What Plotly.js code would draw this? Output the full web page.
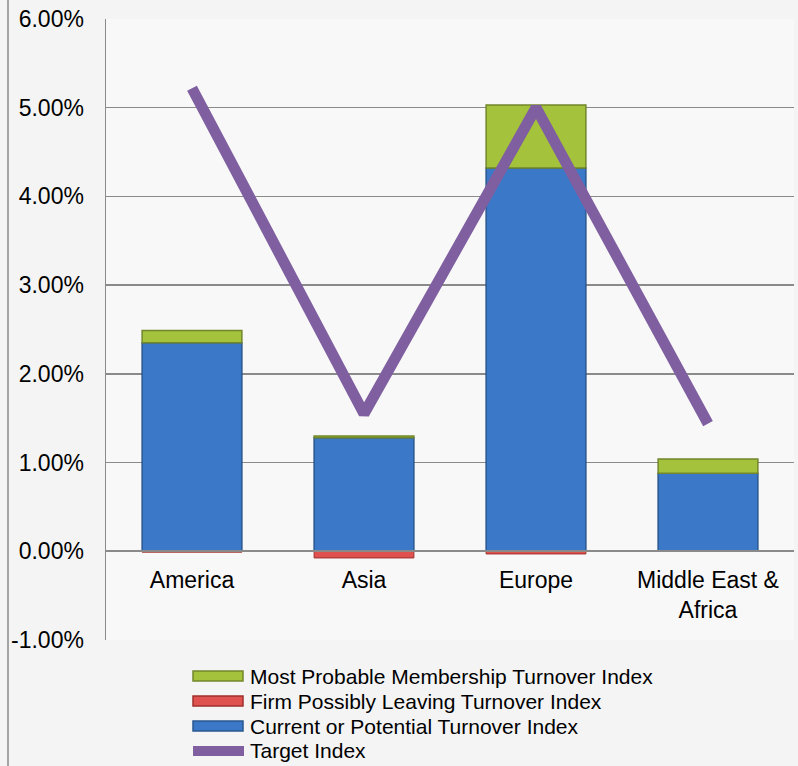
<!DOCTYPE html>
<html>
<head>
<meta charset="utf-8">
<script src="https://cdn.plot.ly/plotly-3.0.1.min.js"></script>
<style>html,body{margin:0;padding:0;background:#f4f4f4;}#chart{width:798px;height:766px;}</style>
</head>
<body>
<div id="chart"></div>
<script>
const categories = ["America", "Asia", "Europe", "Middle East &<br>Africa"];
const currentIdx = [0.0235, 0.0128, 0.0432, 0.0088];
const firmLeaving = [-0.0001, -0.00075, -0.0003, 0];
const mostProbable = [0.0014, 0.0002, 0.0071, 0.0016];
const targetIdx = [0.0522, 0.0155, 0.0500, 0.0144];
const yTicks = [-0.01, 0, 0.01, 0.02, 0.03, 0.04, 0.05, 0.06];
const yTickText = ["-1.00%", "0.00%", "1.00%", "2.00%", "3.00%", "4.00%", "5.00%", "6.00%"];
const seriesNames = ["Most Probable Membership Turnover Index", "Firm Possibly Leaving Turnover Index",
                     "Current or Potential Turnover Index", "Target Index"];
const seriesColors = ["#a5c23c", "#e0524f", "#3b78c8", "#7f5fa0"];
const seriesEdges = ["#72872a", "#9e2f2c", "#2a578f", "#7f5fa0"];

const traces = [
  {type: 'bar', name: seriesNames[2], x: categories, y: currentIdx,
   marker: {color: seriesColors[2], line: {color: seriesEdges[2], width: 1.5}}},
  {type: 'bar', name: seriesNames[1], x: categories, y: firmLeaving,
   marker: {color: seriesColors[1], line: {color: seriesEdges[1], width: 1}}},
  {type: 'bar', name: seriesNames[0], x: categories, y: mostProbable,
   marker: {color: seriesColors[0], line: {color: seriesEdges[0], width: 1.5}}},
  {type: 'scatter', mode: 'lines', name: seriesNames[3], x: categories, y: targetIdx,
   line: {color: seriesColors[3], width: 11}}
];

// custom legend (pixel layout converted to paper coordinates)
const W = 688, H = 621, L = 106, T = 19;
const px = v => (v - L) / W;
const py = v => (T + H - v) / H;
const rowY = [676, 701, 726, 751];
const shapes = [
  {type: 'line', xref: 'paper', yref: 'paper', x0: px(8), x1: px(8), y0: py(766), y1: py(0),
   line: {color: '#8a8a8a', width: 1.5}}
];
const annotations = [];
seriesNames.forEach((n, i) => {
  if (i < 3) {
    shapes.push({type: 'rect', xref: 'paper', yref: 'paper', x0: px(193), x1: px(243),
      y0: py(rowY[i] + 5), y1: py(rowY[i] - 5), fillcolor: seriesColors[i],
      line: {color: seriesEdges[i], width: 1.5}});
  } else {
    shapes.push({type: 'line', xref: 'paper', yref: 'paper', x0: px(193), x1: px(244),
      y0: py(rowY[i]), y1: py(rowY[i]), line: {color: seriesColors[i], width: 10}});
  }
  annotations.push({xref: 'paper', yref: 'paper', x: px(249), y: py(rowY[i]), xanchor: 'left',
    yanchor: 'middle', text: n, showarrow: false, borderpad: 0, font: {size: 21, color: '#000'}});
});

const layout = {
  width: 798, height: 766,
  margin: {l: 106, r: 4, t: 19, b: 126, autoexpand: false},
  paper_bgcolor: '#f4f4f4',
  plot_bgcolor: '#f8f8f8',
  barmode: 'relative',
  bargap: 0.42,
  font: {family: 'Liberation Sans, Arial, sans-serif', color: '#000'},
  showlegend: false,
  xaxis: {anchor: 'free', position: 1/7, showline: true, linecolor: '#8a8a8a', linewidth: 2,
          ticks: '', tickfont: {size: 23}, showgrid: false, ticklabelstandoff: 8},
  yaxis: {range: [-0.01, 0.06], tickvals: yTicks, ticktext: yTickText, tickfont: {size: 23},
          showgrid: true, gridcolor: '#8a8a8a', gridwidth: 1.5, zeroline: false,
          showline: true, linecolor: '#8a8a8a', linewidth: 1.5, ticks: '', ticklabelstandoff: 16},
  shapes: shapes,
  annotations: annotations
};

Plotly.newPlot('chart', traces, layout, {displayModeBar: false, staticPlot: true});
</script>
</body>
</html>
